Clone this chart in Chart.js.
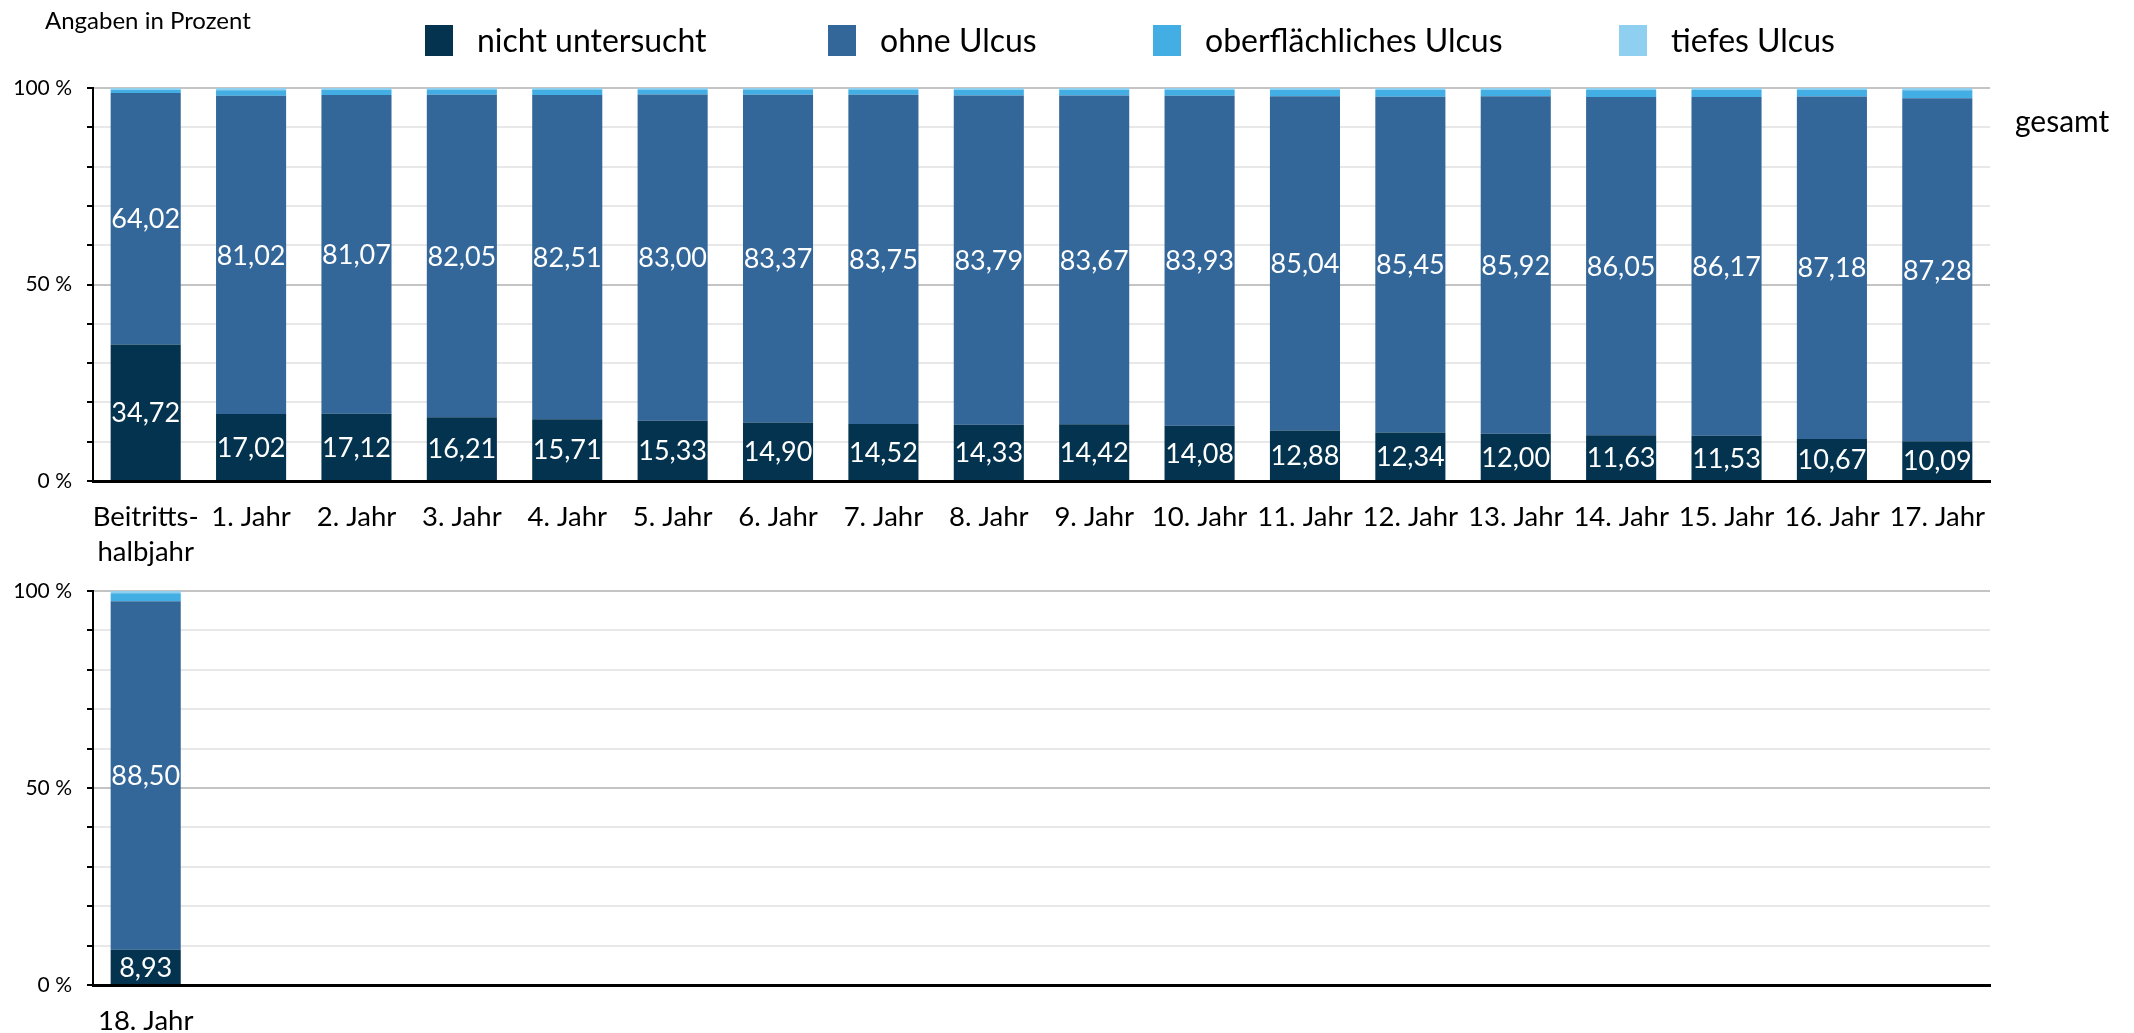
<!DOCTYPE html>
<html><head><meta charset="utf-8">
<script src="https://cdn.jsdelivr.net/npm/chart.js@4.4.1/dist/chart.umd.min.js"></script>
<style>
html,body{margin:0;padding:0;background:#fff;width:2134px;height:1033px;overflow:hidden;font-family:Lato,sans-serif;}
canvas{position:absolute;left:0;}
#topChart{top:0;}
#botChart{top:500px;}
.t{position:absolute;white-space:nowrap;color:#000;height:40px;line-height:40px;}
.sq{position:absolute;width:28px;height:31px;top:25px;}
</style></head><body>
<canvas id="topChart" width="2134" height="600"></canvas>
<canvas id="botChart" width="2134" height="533"></canvas>
<div id="overlay"></div>
<script>
// ---- data ----
const categoriesTop = [['Beitritts-','halbjahr'],'1. Jahr','2. Jahr','3. Jahr','4. Jahr','5. Jahr','6. Jahr','7. Jahr','8. Jahr','9. Jahr','10. Jahr','11. Jahr','12. Jahr','13. Jahr','14. Jahr','15. Jahr','16. Jahr','17. Jahr'];
const categoriesBottom = ['18. Jahr'];
const seriesNames = ['nicht untersucht','ohne Ulcus','oberflächliches Ulcus','tiefes Ulcus'];
const seriesColors = ['#03334f','#336799','#42aee3','#8fd0f0'];

const nichtUntersuchtTop = [34.72,17.02,17.12,16.21,15.71,15.33,14.90,14.52,14.33,14.42,14.08,12.88,12.34,12.00,11.63,11.53,10.67,10.09];
const ohneUlcusTop       = [64.02,81.02,81.07,82.05,82.51,83.00,83.37,83.75,83.79,83.67,83.93,85.04,85.45,85.92,86.05,86.17,87.18,87.28];
const oberflUlcusTop     = [0.84,1.41,1.36,1.34,1.38,1.29,1.33,1.33,1.43,1.49,1.54,1.63,1.73,1.63,1.82,1.82,1.70,2.08];
const tiefesUlcusTop     = [0.42,0.55,0.45,0.40,0.40,0.38,0.40,0.40,0.45,0.42,0.45,0.45,0.48,0.45,0.50,0.48,0.45,0.55];

const nichtUntersuchtBottom = [8.93];
const ohneUlcusBottom       = [88.50];
const oberflUlcusBottom     = [2.02];
const tiefesUlcusBottom     = [0.55];

const yTickStep = 10;
const yLabeledTicks = [0, 50, 100];

// ---- overlay texts ----
const ov = document.getElementById('overlay');
function addText(txt, left, top, size){
  const d = document.createElement('div');
  d.className = 't'; d.textContent = txt;
  d.style.left = left + 'px'; d.style.top = top + 'px'; d.style.fontSize = size + 'px';
  ov.appendChild(d);
}
addText('Angaben in Prozent', 45, 0, 24);
addText('gesamt', 2015, 100, 30);
const legendX = [425, 828, 1153, 1619];
seriesNames.forEach((n, i) => {
  const s = document.createElement('div');
  s.className = 'sq'; s.style.left = legendX[i] + 'px'; s.style.background = seriesColors[i];
  ov.appendChild(s);
  addText(n, legendX[i] + 52, 20, 32);
});

// ---- value label plugin ----
const valueLabels = {
  id: 'valueLabels',
  afterDatasetsDraw(chart){
    const ctx = chart.ctx;
    ctx.save();
    ctx.font = '27px Lato';
    ctx.fillStyle = '#ffffff';
    ctx.textAlign = 'center';
    ctx.textBaseline = 'middle';
    [0, 1].forEach(di => {
      const meta = chart.getDatasetMeta(di);
      meta.data.forEach((el, i) => {
        const v = chart.data.datasets[di].data[i];
        if (v == null) return;
        const p = el.getProps(['x', 'y', 'base'], true);
        ctx.fillText(v.toFixed(2).replace('.', ','), p.x, (p.y + p.base) / 2 + 1);
      });
    });
    ctx.restore();
  }
};

function makeDatasets(a, b, c, d){
  return [a, b, c, d].map((arr, i) => ({
    label: seriesNames[i],
    data: arr,
    backgroundColor: seriesColors[i],
    borderWidth: 0,
    barPercentage: 0.665,
    categoryPercentage: 1.0
  }));
}

function makeOptions(padTop, xHeight){
  return {
    responsive: false,
    animation: false,
    layout: { padding: { top: padTop, right: 144, left: 0, bottom: 0 } },
    plugins: { legend: { display: false }, tooltip: { enabled: false } },
    scales: {
      x: {
        stacked: true,
        grid: { display: false, drawTicks: false, tickLength: 0 },
        border: { display: true, color: '#000', width: 3 },
        ticks: { color: '#000', font: { family: 'Lato', size: 27.5, lineHeight: 1.26 }, padding: 19, maxRotation: 0, autoSkip: false },
        afterFit: s => { s.height = xHeight; }
      },
      y: {
        stacked: true,
        min: 0, max: 100,
        afterFit: s => { s.width = 93; },
        ticks: {
          stepSize: yTickStep, autoSkip: false, color: '#000', padding: 15,
          font: { family: 'Lato', size: 21 },
          callback: v => yLabeledTicks.includes(v) ? v + ' %' : ''
        },
        grid: {
          lineWidth: 2, tickWidth: 2, tickLength: 6, tickColor: '#000',
          color: c => (c.tick && c.tick.value === 0) ? '#000' : ((c.tick && (c.tick.value === 50 || c.tick.value === 100)) ? '#c4c4c4' : '#e8e8e8')
        },
        border: { display: true, color: '#000', width: 2 }
      }
    }
  };
}

new Chart(document.getElementById('topChart'), {
  type: 'bar',
  data: { labels: categoriesTop, datasets: makeDatasets(nichtUntersuchtTop, ohneUlcusTop, oberflUlcusTop, tiefesUlcusTop) },
  options: makeOptions(88, 119),
  plugins: [valueLabels]
});

const bottomLabels = categoriesTop.map((_, i) => categoriesBottom[i] !== undefined ? categoriesBottom[i] : '');
new Chart(document.getElementById('botChart'), {
  type: 'bar',
  data: { labels: bottomLabels, datasets: makeDatasets(nichtUntersuchtBottom, ohneUlcusBottom, oberflUlcusBottom, tiefesUlcusBottom) },
  options: makeOptions(91, 48),
  plugins: [valueLabels]
});
</script>
</body></html>
